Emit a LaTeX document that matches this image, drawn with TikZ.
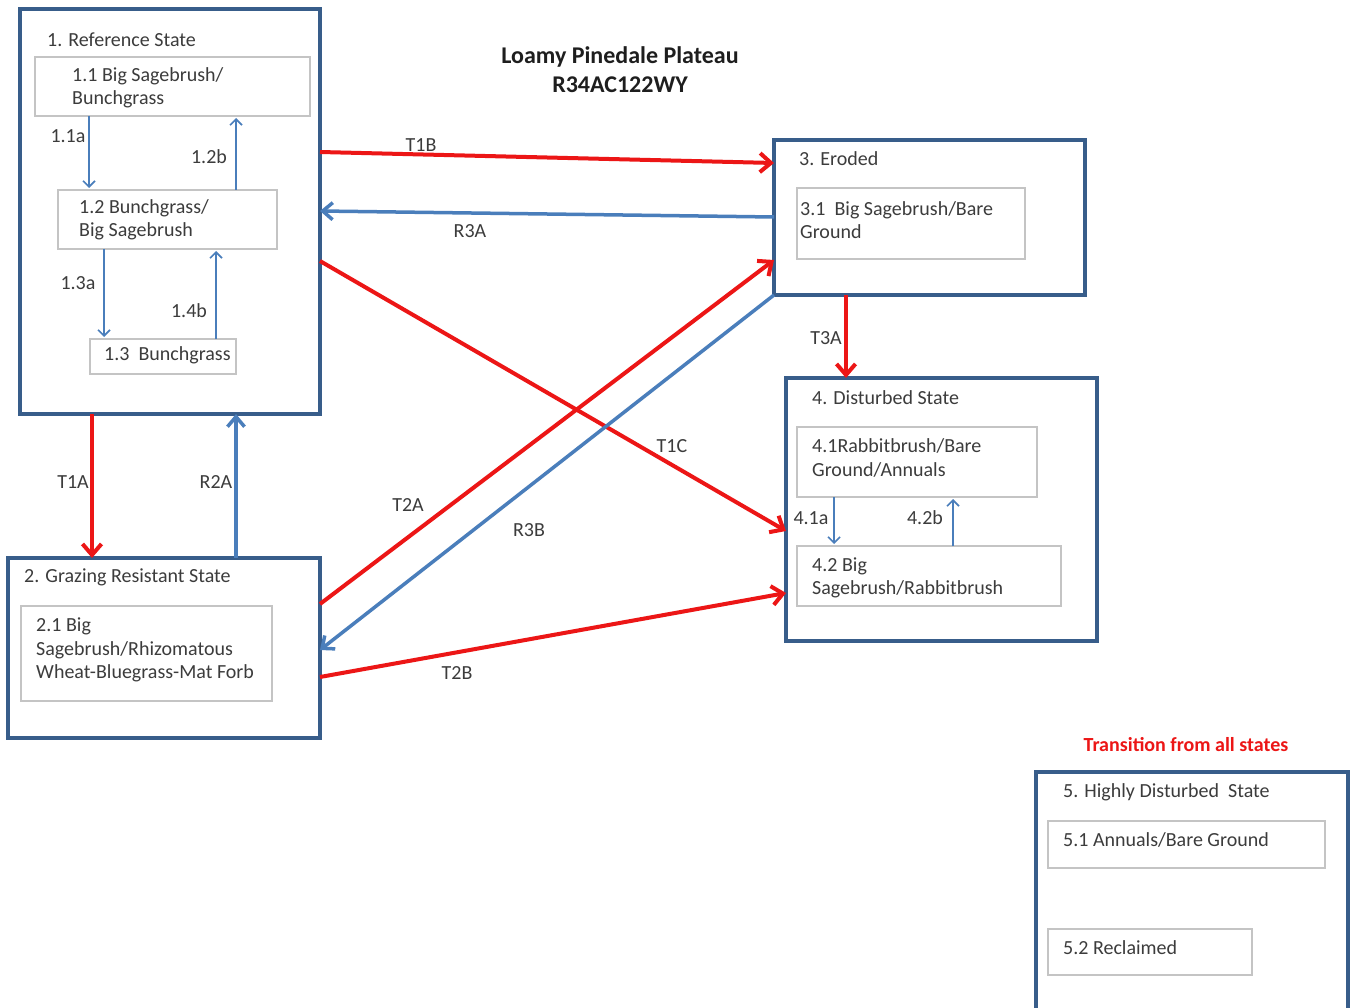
\documentclass[tikz,border=0pt]{standalone}
\usepackage{fontspec}
\setmainfont{Carlito}
\usetikzlibrary{arrows.meta,calc}
\definecolor{boxblue}{RGB}{56,93,138}
\definecolor{arrblue}{RGB}{74,126,187}
\definecolor{arrred}{RGB}{236,22,22}
\definecolor{txtgray}{RGB}{60,60,60}
\definecolor{innergray}{RGB}{196,196,196}
\begin{document}
\begin{tikzpicture}[x=1pt,y=-1pt,
  statebox/.style={draw=boxblue, line width=3.5pt, inner sep=0pt, outer sep=0pt, anchor=north west, fill=white},
  innerbox/.style={draw=innergray, line width=1.1pt, inner sep=0pt, outer sep=0pt, anchor=north west},
  lab/.style={font=\fontsize{20}{23.5}\selectfont, text=txtgray, inner sep=0pt, anchor=west, align=left},
  elab/.style={font=\fontsize{20}{23.5}\selectfont, text=txtgray, inner sep=0pt, anchor=center},
  redarr/.style={draw=arrred, line width=4pt, -{Straight Barb[length=11pt,width=19pt]}},
  bluearr/.style={draw=arrblue, line width=3.5pt, -{Straight Barb[length=10pt,width=17pt]}},
  smallarr/.style={draw=arrblue, line width=1.6pt, -{Straight Barb[length=6pt,width=12pt]}, shorten >=2pt}
]
\clip (0,0) rectangle (1351,1008);
\fill[white] (0,0) rectangle (1351,1008);

% title
\node[font=\bfseries\fontsize{24}{29}\selectfont, text={rgb,255:red,30;green,30;blue,30}, align=center, inner sep=0pt] (title) at (620,69.5) {Loamy Pinedale Plateau\\R34AC122WY};

% state boxes
\node[statebox, minimum width=300pt, minimum height=405pt] (s1) at (20,9) {};
\node[statebox, minimum width=312pt, minimum height=180pt] (s2) at (8,558) {};
\node[statebox, minimum width=311pt, minimum height=155pt] (s3) at (774,140) {};
\node[statebox, minimum width=311pt, minimum height=263pt] (s4) at (786,378) {};
\node[statebox, minimum width=312pt, minimum height=262pt] (s5) at (1036,772) {};

% inner boxes
\node[innerbox, minimum width=275pt, minimum height=59pt] (b11) at (35,57) {};
\node[innerbox, minimum width=219pt, minimum height=59pt] (b12) at (58,190) {};
\node[innerbox, minimum width=146pt, minimum height=35pt] (b13) at (90,339) {};
\node[innerbox, minimum width=251pt, minimum height=95pt] (b21) at (21,606) {};
\node[innerbox, minimum width=228pt, minimum height=71pt] (b31) at (797,188) {};
\node[innerbox, minimum width=240pt, minimum height=70pt] (b41) at (797,427) {};
\node[innerbox, minimum width=264pt, minimum height=60pt] (b42) at (797,546) {};
\node[innerbox, minimum width=277pt, minimum height=47pt] (b51) at (1048,821) {};
\node[innerbox, minimum width=204pt, minimum height=46pt] (b52) at (1048,929) {};

% texts
\node[lab] (s1t) at (47,40) {1. Reference State};
\node[lab] (b11t) at (72,88) {1.1 Big Sagebrush/\\Bunchgrass};
\node[lab] (b12t) at (79,220) {1.2 Bunchgrass/\\Big Sagebrush};
\node[lab] (b13t) at (104,355) {1.3\ \ Bunchgrass};
\node[lab] (s2t) at (24,577) {2. Grazing Resistant State};
\node[lab] (b21t) at (36,650) {2.1 Big\\Sagebrush/Rhizomatous\\Wheat-Bluegrass-Mat Forb};
\node[lab] (s3t) at (799,159) {3. Eroded};
\node[lab] (b31t) at (800,220) {3.1\ \ Big Sagebrush/Bare\\Ground};
\node[lab] (s4t) at (812,398) {4. Disturbed State};
\node[lab] (b41t) at (812,458) {4.1Rabbitbrush/Bare\\Ground/Annuals};
\node[lab] (b42t) at (812,578) {4.2 Big\\Sagebrush/Rabbitbrush};
\node[lab] (s5t) at (1063,792) {5. Highly Disturbed\ \ State};
\node[lab] (b51t) at (1063,840) {5.1 Annuals/Bare Ground};
\node[lab] (b52t) at (1063,948) {5.2 Reclaimed};
\node[font=\bfseries\fontsize{20}{22}\selectfont, text=arrred, inner sep=0pt] (trans) at (1186,745) {Transition from all states};

% inner transitions
\draw[smallarr] (b11.south -| 89,0) -- (b12.north -| 89,0);
\draw[smallarr] (b12.north -| 236,0) -- (b11.south -| 236,0);
\draw[smallarr] (b12.south -| 104,0) -- (b13.north -| 104,0);
\draw[smallarr] (b13.north -| 216,0) -- (b12.south -| 216,0);
\draw[smallarr] (b41.south -| 834,0) -- (b42.north -| 834,0);
\draw[smallarr] (b42.north -| 953,0) -- (b41.south -| 953,0);
\node[elab] (l11a) at (68,136) {1.1a};
\node[elab] (l12b) at (209,157) {1.2b};
\node[elab] (l13a) at (78,283) {1.3a};
\node[elab] (l14b) at (189,311) {1.4b};
\node[elab] (l41a) at (811,518) {4.1a};
\node[elab] (l42b) at (925,518) {4.2b};

% state transitions
\draw[redarr] (s1.east |- 0,152) -- (s3.west |- 0,163);
\draw[bluearr] (s3.west |- 0,217) -- (s1.east |- 0,211);
\draw[redarr] (s1.east |- 0,261) -- (s4.west |- 0,531);
\draw[redarr] (s2.east |- 0,604) -- (s3.west |- 0,260);
\draw[bluearr] (s3.south west) -- (s2.east |- 0,650);
\draw[redarr] (s2.east |- 0,677) -- (s4.west |- 0,593);
\draw[redarr] (s1.south -| 92,0) -- (s2.north -| 92,0);
\draw[bluearr] (s2.north -| 236,0) -- (s1.south -| 236,0);
\draw[redarr] (s3.south -| 846,0) -- (s4.north -| 846,0);

\node[elab] (lT1B) at (421,145) {T1B};
\node[elab] (lR3A) at (470,231) {R3A};
\node[elab] (lT1C) at (672,446) {T1C};
\node[elab] (lT2A) at (408,505) {T2A};
\node[elab] (lR3B) at (529,530) {R3B};
\node[elab] (lT2B) at (457,673) {T2B};
\node[elab] (lT1A) at (73,482) {T1A};
\node[elab] (lR2A) at (216,482) {R2A};
\node[elab] (lT3A) at (826,338) {T3A};
\end{tikzpicture}
\end{document}
